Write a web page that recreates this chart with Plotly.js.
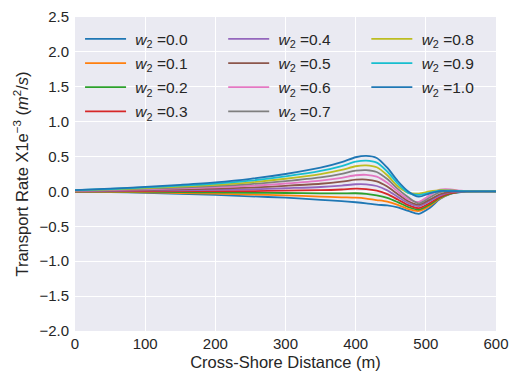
<!DOCTYPE html>
<html>
<head>
<meta charset="utf-8">
<script src="https://cdn.plot.ly/plotly-3.0.1.min.js"></script>
<style>html,body{margin:0;padding:0;background:#fff;}#chart{width:517px;height:379px;}</style>
</head>
<body>
<div id="chart"></div>
<script>
// Cross-shore distance (m)
const distance = [0, 50, 100, 150, 200, 250, 300, 350, 380, 400, 415, 430, 445, 460, 475, 490, 505, 520, 535, 550, 570, 600];

// Weights
const weights = ["0.0", "0.1", "0.2", "0.3", "0.4", "0.5", "0.6", "0.7", "0.8", "0.9", "1.0"];

// Transport rate (x1e-3 m^2/s) for each weight
const rate_w00 = [-0.005, -0.010, -0.020, -0.035, -0.050, -0.070, -0.090, -0.120, -0.140, -0.155, -0.170, -0.190, -0.200, -0.230, -0.280, -0.320, -0.240, -0.110, -0.035, -0.008, 0, 0];
const rate_w01 = [-0.003, -0.005, -0.012, -0.022, -0.032, -0.045, -0.056, -0.074, -0.084, -0.090, -0.102, -0.123, -0.146, -0.192, -0.252, -0.280, -0.210, -0.100, -0.030, -0.007, 0, 0];
const rate_w02 = [0.000, 0.000, -0.003, -0.009, -0.014, -0.020, -0.022, -0.028, -0.028, -0.026, -0.034, -0.056, -0.092, -0.154, -0.224, -0.260, -0.190, -0.090, -0.030, -0.006, 0, 0];
const rate_w03 = [0.003, 0.005, 0.006, 0.004, 0.004, 0.005, 0.012, 0.018, 0.028, 0.039, 0.034, 0.011, -0.038, -0.116, -0.196, -0.240, -0.170, -0.080, -0.025, -0.005, 0, 0];
const rate_w04 = [0.005, 0.010, 0.014, 0.017, 0.022, 0.030, 0.046, 0.064, 0.084, 0.103, 0.102, 0.078, 0.016, -0.078, -0.168, -0.210, -0.140, -0.060, -0.015, -0.003, 0, 0];
const rate_w05 = [0.008, 0.015, 0.023, 0.030, 0.040, 0.055, 0.080, 0.110, 0.140, 0.168, 0.170, 0.145, 0.070, -0.040, -0.140, -0.190, -0.120, -0.040, -0.005, 0.000, 0, 0];
const rate_w06 = [0.010, 0.020, 0.031, 0.043, 0.058, 0.080, 0.114, 0.156, 0.196, 0.232, 0.238, 0.212, 0.124, -0.002, -0.112, -0.150, -0.060, 0.025, 0.030, 0.010, 0, 0];
const rate_w07 = [0.013, 0.025, 0.040, 0.056, 0.076, 0.105, 0.148, 0.202, 0.252, 0.297, 0.306, 0.279, 0.178, 0.036, -0.084, -0.170, -0.090, -0.010, 0.010, 0.005, 0, 0];
const rate_w08 = [0.015, 0.030, 0.048, 0.069, 0.094, 0.130, 0.182, 0.248, 0.308, 0.361, 0.374, 0.346, 0.232, 0.074, -0.020, -0.030, 0.000, 0.020, 0.015, 0.005, 0, 0];
const rate_w09 = [0.018, 0.035, 0.057, 0.082, 0.112, 0.155, 0.216, 0.294, 0.364, 0.426, 0.442, 0.413, 0.286, 0.112, -0.020, -0.050, -0.020, 0.010, 0.010, 0.003, 0, 0];
const rate_w10 = [0.020, 0.040, 0.065, 0.095, 0.130, 0.180, 0.250, 0.340, 0.420, 0.490, 0.510, 0.480, 0.340, 0.150, 0.000, -0.075, -0.030, 0.005, 0.005, 0.002, 0, 0];

const series = [rate_w00, rate_w01, rate_w02, rate_w03, rate_w04, rate_w05, rate_w06, rate_w07, rate_w08, rate_w09, rate_w10];
const colors = ["#1f77b4", "#ff7f0e", "#2ca02c", "#d62728", "#9467bd", "#8c564b", "#e377c2", "#7f7f7f", "#bcbd22", "#17becf", "#1f77b4"];

const textColor = "#262626";
const font = "Liberation Sans, Arial, sans-serif";

const traces = series.map((ys, i) => ({
  x: distance,
  y: ys,
  type: "scatter",
  mode: "lines",
  line: {color: colors[i], width: 1.8, shape: "spline", smoothing: 0.8},
  name: "&nbsp;<i>w</i><sub>2</sub> =" + weights[i],
  legend: i < 4 ? "legend" : (i < 8 ? "legend2" : "legend3"),
  legendgroup: "g" + i
}));

const legendBase = {
  bgcolor: "rgba(0,0,0,0)",
  borderwidth: 0,
  font: {family: font, size: 15.5, color: textColor},
  xanchor: "left",
  yanchor: "top",
  y: 0.983,
  tracegroupgap: 1,
  itemwidth: 41
};

const layout = {
  width: 517,
  height: 379,
  margin: {l: 75, r: 21, t: 17, b: 48},
  paper_bgcolor: "#ffffff",
  plot_bgcolor: "#EAEAF2",
  font: {family: font, size: 15, color: textColor},
  xaxis: {
    range: [0, 600],
    dtick: 100,
    tick0: 0,
    showgrid: true,
    gridcolor: "#ffffff",
    gridwidth: 1,
    zeroline: false,
    showline: false,
    ticks: "",
    ticklabelstandoff: 2,
    tickfont: {family: font, size: 15, color: textColor},
    title: {text: "Cross-Shore Distance (m)", font: {family: font, size: 16.5, color: textColor}, standoff: 5}
  },
  yaxis: {
    range: [-2.0, 2.5],
    dtick: 0.5,
    tick0: 0,
    tickformat: ".1f",
    showgrid: true,
    gridcolor: "#ffffff",
    gridwidth: 1,
    zeroline: false,
    showline: false,
    ticks: "",
    ticklabelstandoff: 5,
    tickfont: {family: font, size: 15, color: textColor},
    title: {text: "Transport Rate X1e<sup>−3</sup> (<i>m</i><sup>2</sup>/<i>s</i>)", font: {family: font, size: 16.5, color: textColor}, standoff: 6}
  },
  legend: Object.assign({}, legendBase, {x: 0.012}),
  legend2: Object.assign({}, legendBase, {x: 0.352}),
  legend3: Object.assign({}, legendBase, {x: 0.692}),
  showlegend: true
};

Plotly.newPlot("chart", traces, layout, {displayModeBar: false, staticPlot: true});
</script>
</body>
</html>
